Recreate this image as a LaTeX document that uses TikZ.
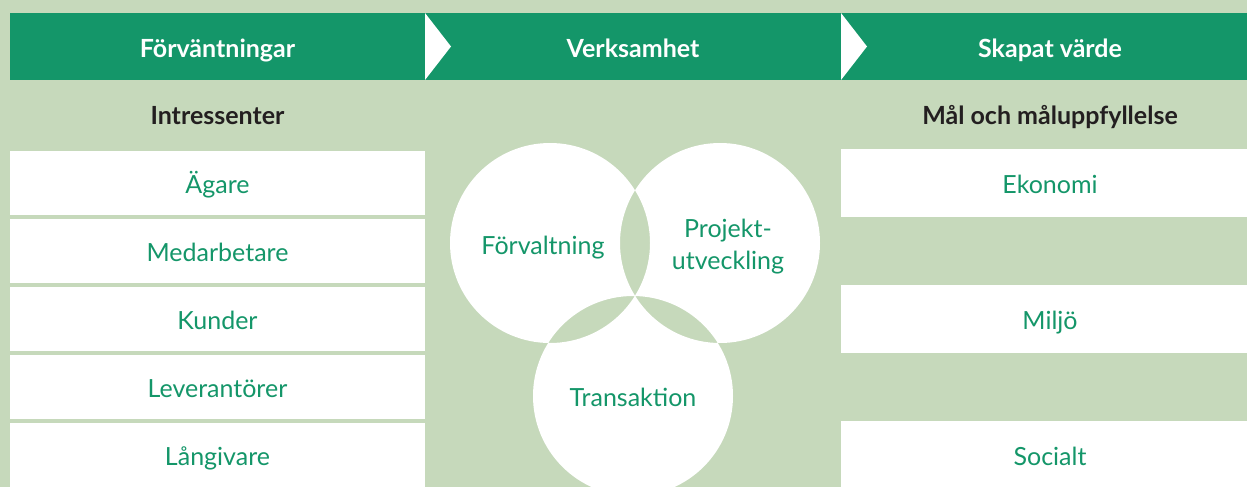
\documentclass[tikz,border=0pt]{standalone}
\usepackage{fontspec}
\setmainfont{Lato}
\usepackage{tikz}
\usetikzlibrary{positioning,calc}
\usepackage{xcolor}

\definecolor{hdrgreen}{RGB}{20,150,105}
\definecolor{bggreen}{RGB}{198,217,187}
\definecolor{darktext}{RGB}{35,31,32}

\tikzset{
    hdrlabel/.style={text=white, anchor=base, font=\fontsize{25}{30}\selectfont\bfseries},
    sublabel/.style={text=darktext, anchor=base, font=\fontsize{25}{30}\selectfont\bfseries},
    cellbox/.style={fill=white, text=hdrgreen, inner sep=0pt,
        text height=20pt, text depth=0pt,
        font=\fontsize{25}{30}\selectfont},
    ringlabel/.style={text=hdrgreen, align=center, anchor=base,
        font=\fontsize{25}{32}\selectfont}
}

\begin{document}
\begin{tikzpicture}[x=1pt, y=-1pt]
    \useasboundingbox (0,0) rectangle (1247,487);
    \clip (0,0) rectangle (1247,487);
    \fill[bggreen] (0,0) rectangle (1247,487);

    % Header band with the two white notches
    \fill[hdrgreen] (10,13) rectangle (1259,80);
    \fill[white] (425,13) -- (451,46.5) -- (425,80) -- cycle;
    \fill[white] (841,13) -- (867,46.5) -- (841,80) -- cycle;
    \node[hdrlabel] (forv) at (217.5, 57) {Förväntningar};
    \node[hdrlabel] (verk) at (633, 57) {Verksamhet};
    \node[hdrlabel] (skap) at (1050, 57) {Skapat värde};

    % Column headings
    \node[sublabel] (intr) at (217.5, 124) {Intressenter};
    \node[sublabel] (mal) at (1050, 124) {Mål och måluppfyllelse};

    % Stakeholders, one row each
    \foreach \name [count=\i from 0] in {Ägare, Medarbetare, Kunder, Leverantörer, Långivare} {
        \node[cellbox, minimum width=415pt, minimum height=64pt] (int\i) at (217.5, 183+68*\i) {\name};
    }

    % Goals, every second row
    \foreach \name/\r in {Ekonomi/0, Miljö/2, Socialt/4} {
        \node[cellbox, minimum width=418pt, minimum height=68pt] (mal\r) at (1050, 183+68*\r) {\name};
    }

    % Three overlapping circles, overlaps left open
    \coordinate (cforv) at (550, 243);
    \coordinate (cproj) at (720, 243);
    \coordinate (ctran) at (633, 396);
    \fill[white, even odd rule] (cforv) circle (100pt) (cproj) circle (100pt) (ctran) circle (100pt);

    \node[ringlabel] (lforv) at (543, 254) {Förvaltning};
    \node[ringlabel] (lproj) at (728, 269) {Projekt-\\utveckling};
    \node[ringlabel] (ltran) at (633, 406) {Transaktion};
\end{tikzpicture}
\end{document}
